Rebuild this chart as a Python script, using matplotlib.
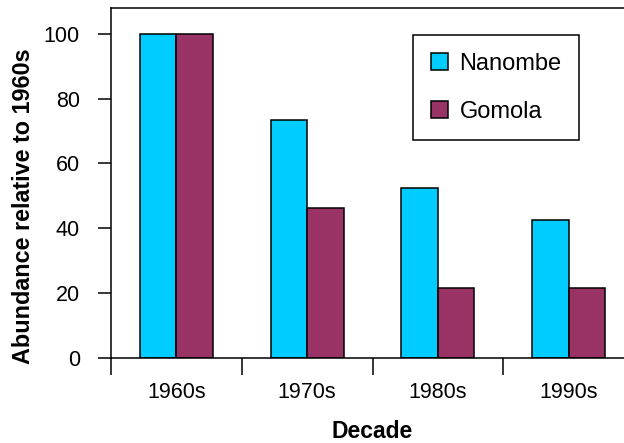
import numpy as np
import matplotlib.pyplot as plt

plt.rcParams['font.family'] = ['Liberation Sans', 'DejaVu Sans']

decades = ["1960s", "1970s", "1980s", "1990s"]
nanombe = [100, 73.3, 52.3, 42.5]
gomola = [100, 46.2, 21.6, 21.6]

c_nan = '#00CCFF'
c_gom = '#993366'

fig = plt.figure(figsize=(6.24, 4.43), dpi=100)
ax = fig.add_axes([111/624, 85/443, 523/624, 350/443])

x = np.arange(len(decades))
w = 0.28
ax.bar(x + 0.36, nanombe, w, color=c_nan, edgecolor='black', linewidth=1.1, label='Nanombe')
ax.bar(x + 0.64, gomola, w, color=c_gom, edgecolor='black', linewidth=1.1, label='Gomola')

ax.set_xlim(0, 4)
ax.set_ylim(0, 107.9)

# group boundaries as ticks, labels in the middle
ax.set_xticks(x)
ax.set_xticklabels([])
ax.set_xticks(x + 0.5, minor=True)
ax.set_xticklabels(decades, minor=True, fontsize=15.5)
ax.tick_params(axis='x', which='major', length=12.5, width=1.1, direction='out')
ax.tick_params(axis='x', which='minor', length=0, pad=17)

ax.set_yticks([0, 20, 40, 60, 80, 100])
ax.tick_params(axis='y', length=9.4, width=1.1, pad=13, labelsize=15.5)

for s in ax.spines.values():
    s.set_linewidth(1.1)

fig.text(372/624, 1 - 432/443, "Decade", ha='center', va='center',
         fontsize=16.5, fontweight='bold')
fig.text(24/624, 1 - 206/443, "Abundance relative to 1960s", ha='center', va='center',
         rotation=90, fontsize=16.8, fontweight='bold')

leg = ax.legend(loc='upper left', bbox_to_anchor=(413/624, 1 - 35/443),
                bbox_transform=fig.transFigure, fontsize=17, fancybox=False,
                framealpha=1, edgecolor='black', handlelength=0.72, handleheight=0.72,
                handletextpad=0.5, borderpad=0.75, labelspacing=1.1, borderaxespad=0)
leg.get_frame().set_linewidth(1.1)

fig.savefig("out.png", dpi=100)
